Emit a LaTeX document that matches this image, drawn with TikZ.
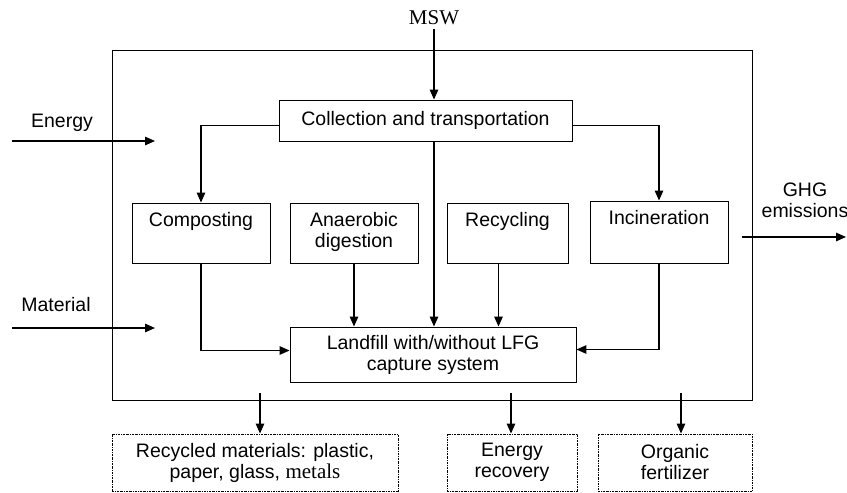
\documentclass[tikz,border=0pt]{standalone}
\usepackage{fontspec}
\setmainfont{Liberation Sans}
\newfontfamily\timesfont{Liberation Serif}
\usetikzlibrary{arrows.meta,positioning}
\tikzset{font=\fontsize{19.5}{21}\selectfont}
\tikzset{every node/.append style={transform shape=false}}

\begin{document}
\begin{tikzpicture}[x=1pt,y=-1pt,
  box/.style={draw,line width=0.9pt,align=center},
  outbox/.style={draw,line width=0.9pt,dash pattern=on 2pt off 1pt on 0.6pt off 1pt,
    align=center,minimum height=57pt},
  boxtext/.style={inner sep=0pt,align=center,anchor=north},
  flow/.style={line width=1.3pt,-{Triangle[length=10pt,width=8.5pt]}}]
  \useasboundingbox (0,0) rectangle (847,493);

  % system boundary
  \draw[line width=0.9pt] (112,50) rectangle (752,400);

  \node[font=\timesfont\fontsize{21}{24}\selectfont] (msw) at (434,18) {MSW};
  \node[box, minimum width=293pt, minimum height=41pt] (collect) at (425.5,120.5) {Collection and transportation};

  % treatment options
  \node[box, minimum width=138pt, minimum height=60pt] (compost) at (201,233) {};
  \node[boxtext, below=10pt of compost.north] (compostT) {Composting};
  \node[box, minimum width=128pt, minimum height=60pt] (anaer) at (354,233) {};
  \node[boxtext, below=10pt of anaer.north] (anaerT) {Anaerobic\\digestion};
  \node[box, minimum width=121pt, minimum height=60pt] (recyc) at (507.5,233) {};
  \node[boxtext, below=10pt of recyc.north] (recycT) {Recycling};
  \node[box, minimum width=138pt, minimum height=62pt] (incin) at (659,232) {};
  \node[boxtext, below=10pt of incin.north] (incinT) {Incineration};

  \node[box, minimum width=286pt, minimum height=55pt] (landfill) at (433,354.5) {Landfill with/without LFG\\capture system};

  % products
  \node[outbox, minimum width=286pt] (recmat) at (255,462.5) {Recycled materials: plastic,\\paper, glass, {\timesfont\fontsize{21}{21}\selectfont metals}};
  \node[outbox, minimum width=130pt] (enrec) at (512,462.5) {Energy\\recovery};
  \node[outbox, minimum width=154pt] (fert) at (675,462.5) {Organic\\fertilizer};

  % inputs and emissions
  \node (energy) at (62,123) {Energy};
  \coordinate (energyin) at (12,141);
  \coordinate (energyend) at (155,141);
  \node (material) at (56,305) {Material};
  \coordinate (matin) at (12,328);
  \coordinate (matend) at (155,328);
  \node[align=center, inner sep=0pt] (ghg) at (805,200) {GHG\\emissions};
  \coordinate (ghgin) at (742,237);
  \coordinate (ghgout) at (846,237);

  \draw[flow] (energyin) -- (energyend);
  \draw[flow] (matin) -- (matend);
  \draw[flow] (ghgin) -- (ghgout);

  \draw[flow] (msw.south) -- (collect.north -| msw.south);
  \draw[flow] (collect.south -| msw.south) -- (landfill.north -| msw.south);
  \draw[flow] ([yshift=-5pt]collect.west) -| (compost.north);
  \draw[flow] ([yshift=-5pt]collect.east) -| (incin.north);
  \draw[flow] (anaer.south) -- (anaer.south |- landfill.north);
  \draw[flow] ([xshift=-9pt]recyc.south) -- ([xshift=-9pt]recyc.south |- landfill.north);
  \draw[flow] (compost.south) |- ([yshift=4pt]landfill.west);
  \draw[flow] (incin.south) |- ([yshift=5pt]landfill.east);

  \coordinate (out1) at (260,393);
  \coordinate (out2) at (511,393);
  \coordinate (out3) at (681,393);
  \draw[flow] (out1) -- (out1 |- recmat.north);
  \draw[flow] (out2) -- (out2 |- enrec.north);
  \draw[flow] (out3) -- (out3 |- fert.north);
\end{tikzpicture}
\end{document}
